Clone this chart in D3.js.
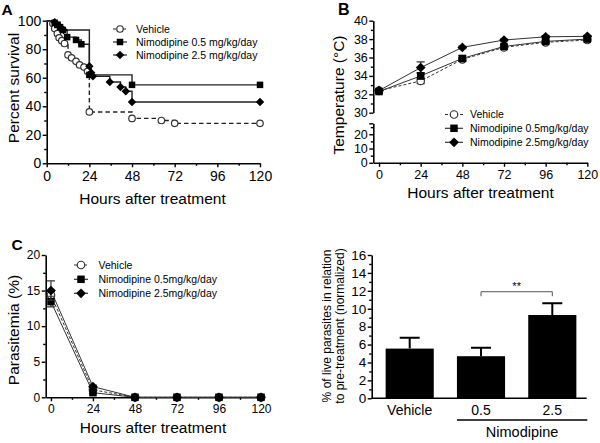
<!DOCTYPE html>
<html><head><meta charset="utf-8">
<script src="https://cdn.jsdelivr.net/npm/d3@7"></script>
<style>
body{margin:0;background:#fff;}
svg{display:block;}
</style></head><body>
<svg id="chart" width="600" height="443"></svg>
<script>
// ---------- DATA ----------
const hourTicks = [0, 24, 48, 72, 96, 120];
const hourMinorTicks = [12, 36, 60, 84, 108];
const seriesNames = ["Vehicle", "Nimodipine 0.5mg/kg/day", "Nimodipine 2.5mg/kg/day"];
const survivalLegend = ["Vehicle", "Nimodipine 0.5 mg/kg/day", "Nimodipine 2.5 mg/kg/day"];

// Panel A: Kaplan-Meier survival [hour, percent]
const survivalTicks = [0, 20, 40, 60, 80, 100];
const survivalMinorTicks = [10, 30, 50, 70, 90];
const survivalVehicle = [[0,100],[3.5,98],[4.5,94.5],[6,91],[7,88],[8.5,86],[10,84],[12,76],[14,74],[16.5,71.5],[18.5,69],[21,67.5],[23,64.5],[24,36],[48,31.5],[64.5,30],[72,28],[120,28]];
const survivalNim05 = [[0,100],[4.5,98.5],[6,97],[7.5,95.5],[9,93.5],[11.5,88.5],[16.5,86.5],[19.5,83.5],[24,62],[48,55],[120,55]];
const survivalNim25 = [[0,100],[4.5,99],[7.5,95.5],[9.5,93.5],[24,68],[25,63.5],[26,61],[35.5,57],[41.5,53.5],[44.5,50.5],[48,43],[120,43]];

// Panel B: temperature (°C)
const tempHours = [0, 24, 48, 72, 96, 120];
const tempTopTicks = [30, 32, 34, 36, 38, 40];
const tempTopMinorTicks = [31, 33, 35, 37, 39];
const tempBottomTicks = [0, 10, 20];
const tempBottomMinorTicks = [5, 15, 25];
const tempVehicle = [32.4, 33.45, 35.8, 37.1, 37.65, 37.9];
const tempVehicleErr = [0.2, 0.3, 0.2, 0.15, 0.15, 0.1];
const tempNim05 = [32.3, 34.0, 35.9, 37.2, 37.75, 38.0];
const tempNim05Err = [0.2, 0.35, 0.3, 0.2, 0.15, 0.1];
const tempNim25 = [32.4, 34.9, 37.1, 37.9, 38.25, 38.3];
const tempNim25Err = [0.2, 0.62, 0.15, 0.1, 0.12, 0.1];

// Panel C: parasitemia (%)
const paraTicks = [0, 5, 10, 15, 20];
const paraMinorTicks = [2.5, 7.5, 12.5, 17.5];
const paraVehicle = [14.35, 1.05, 0, 0, 0, 0];
const paraVehicleErr = [0.5, 0.15, 0, 0, 0, 0];
const paraNim05 = [13.45, 0.65, 0, 0, 0, 0];
const paraNim05Err = [0.75, 0.15, 0, 0, 0, 0];
const paraNim25 = [15.0, 1.5, 0, 0, 0, 0];
const paraNim25Err = [1.35, 0.2, 0, 0, 0, 0];

// Panel D: % live parasites
const barCategories = ["Vehicle", "0.5", "2.5"];
const barValues = [5.55, 4.7, 9.3];
const barErrors = [1.2, 0.95, 1.32];
const barTicks = [0, 2, 4, 6, 8, 10, 12, 14, 16];
const barMinorTicks = [1, 3, 5, 7, 9, 11, 13, 15];
const significance = [{ from: "0.5", to: "2.5", level: 11.9, label: "**" }];
const groupLabel = "Nimodipine";
const groupMembers = ["0.5", "2.5"];

// ---------- DRAWING ----------
const FONT = '"Liberation Sans", Arial, Helvetica, sans-serif';
const svg = d3.select("#chart").attr("font-family", FONT);
svg.append("rect").attr("width", 600).attr("height", 443).attr("fill", "#fff");

function styleAxis(g, fs) {
  g.attr("font-family", FONT).attr("font-size", fs);
  g.selectAll("path.domain").attr("stroke", "#000").attr("stroke-width", 1.6);
  g.selectAll(".tick line").attr("stroke", "#000").attr("stroke-width", 1.4);
  g.selectAll(".tick text").attr("fill", "#000");
}
function drawAxis(parent, gen, transform, major, minor, fs, pad, fmt) {
  const g = parent.append("g").attr("transform", transform);
  gen.tickValues(major).tickSizeInner(4).tickSizeOuter(0).tickPadding(pad);
  if (fmt) gen.tickFormat(fmt);
  g.call(gen);
  styleAxis(g, fs);
  if (minor) {
    const gm = parent.append("g").attr("transform", transform);
    gm.call(gen.tickValues(minor).tickSizeInner(2.5).tickFormat(""));
    gm.select("path.domain").remove();
    styleAxis(gm, fs);
  }
  return g;
}
const diamondPath = r => `M0,${-r}L${r},0L0,${r}L${-r},0Z`;
function marker(g, type, x, y, s) {
  if (type === 0) {
    g.append("circle").attr("cx", x).attr("cy", y).attr("r", s * 0.5)
      .attr("fill", "#fff").attr("stroke", "#333").attr("stroke-width", 1.2);
  } else if (type === 1) {
    g.append("rect").attr("x", x - s / 2).attr("y", y - s / 2).attr("width", s).attr("height", s).attr("fill", "#000");
  } else {
    g.append("path").attr("d", diamondPath(s * 0.65)).attr("transform", `translate(${x},${y})`).attr("fill", "#000");
  }
}
function title(text, x, y, fs, rotate, weight) {
  const t = svg.append("text").text(text).attr("font-size", fs).attr("fill", "#000")
    .attr("text-anchor", rotate ? "middle" : "start");
  if (weight) t.attr("font-weight", weight);
  if (rotate) t.attr("transform", `translate(${x},${y}) rotate(-90)`);
  else t.attr("x", x).attr("y", y);
  return t;
}
function legend(items, x0, x1, xt, ys, lineColor, sz) {
  const g = svg.append("g");
  items.forEach((name, i) => {
    const line = g.append("line").attr("x1", x0).attr("x2", x1).attr("y1", ys[i]).attr("y2", ys[i])
      .attr("stroke", lineColor).attr("stroke-width", 1.2);
    if (i === 0) line.attr("stroke-dasharray", "3,2");
    marker(g, i, (x0 + x1) / 2, ys[i], sz);
    g.append("text").attr("x", xt).attr("y", ys[i]).attr("dy", "0.36em").attr("font-size", 10.5)
      .attr("fill", "#000").text(name);
  });
}

// ===== Panel A =====
{
  const x = d3.scaleLinear([0, 120], [46.7, 260]);
  const y = d3.scaleLinear([0, 100], [163.3, 20.7]);
  const g = svg.append("g");
  drawAxis(g, d3.axisBottom(x), "translate(0,163.3)", hourTicks, hourMinorTicks, 14, 3.5);
  drawAxis(g, d3.axisLeft(y), "translate(46.7,0)", survivalTicks, survivalMinorTicks, 14, 1.5);
  const line = d3.line().x(d => x(d[0])).y(d => y(d[1])).curve(d3.curveStepAfter);
  const sets = [survivalVehicle, survivalNim05, survivalNim25];
  sets.forEach((s, i) => {
    const p = g.append("path").attr("d", line(s)).attr("fill", "none")
      .attr("stroke", "#222").attr("stroke-width", 1.4);
    if (i === 0) p.attr("stroke-dasharray", "4.5,3");
  });
  [survivalVehicle, survivalNim25, survivalNim05].forEach(s => {
    const i = sets.indexOf(s);
    s.slice(1).forEach(d => marker(g, i, x(d[0]), y(d[1]), i === 0 ? 6.5 : 6.5));
  });
  legend(survivalLegend, 113, 127, 136, [29, 42, 55], "#222", 6.5);
  title("A", 1.5, 15, 15.5, false, "bold");
  title("Hours after treatment", 152.5, 203.5, 15.5).attr("text-anchor", "middle");
  title("Percent survival", 18.5, 88, 15.5, true);
}

// ===== Panel B =====
{
  const x = d3.scaleLinear([-3.3, 120], [373.3, 587.3]);
  const yTop = d3.scaleLinear([30, 40], [112.7, 20.7]);
  const yBot = d3.scaleLinear([0, 27.7], [162.8, 123.3]);
  const g = svg.append("g");
  drawAxis(g, d3.axisBottom(x), "translate(0,162.8)", hourTicks, hourMinorTicks, 12.5, 3.5);
  drawAxis(g, d3.axisLeft(yTop), "translate(373.3,0)", tempTopTicks, tempTopMinorTicks, 12.5, 1.5);
  drawAxis(g, d3.axisLeft(yBot), "translate(373.3,0)", tempBottomTicks.concat([27.7]), tempBottomMinorTicks, 12.5, 1.5,
    d => tempBottomTicks.includes(d) ? d : "");
  const vals = [tempVehicle, tempNim05, tempNim25];
  const errs = [tempVehicleErr, tempNim05Err, tempNim25Err];
  const line = d3.line().x((d, i) => x(tempHours[i])).y(d => yTop(d));
  vals.forEach((v, i) => {
    const p = g.append("path").attr("d", line(v)).attr("fill", "none").attr("stroke", "#333").attr("stroke-width", 1);
    if (i === 0) p.attr("stroke-dasharray", "3,2");
  });
  [0, 2, 1].forEach(i => {
    vals[i].forEach((v, j) => {
      const cx = x(tempHours[j]);
      const e = errs[i][j];
      g.append("path").attr("d", `M${cx},${yTop(v - e)}V${yTop(v + e)}M${cx - 4},${yTop(v + e)}h8M${cx - 4},${yTop(v - e)}h8`)
        .attr("stroke", "#333").attr("stroke-width", 1.2).attr("fill", "none");
      marker(g, i, cx, yTop(v), 7.5);
    });
  });
  legend(seriesNames, 445, 463, 470, [114.5, 128.3, 142.3], "#333", 7.5);
  title("B", 338, 15, 16, false, "bold");
  title("Hours after treatment", 480.5, 197.5, 15.5).attr("text-anchor", "middle");
  title("Temperature (\u00B0C)", 344, 95, 15.5, true);
}

// ===== Panel C =====
{
  const x = d3.scaleLinear([-3, 120], [45.7, 261]);
  const y = d3.scaleLinear([0, 20], [397.3, 255]);
  const g = svg.append("g");
  drawAxis(g, d3.axisBottom(x), "translate(0,397.3)", hourTicks, hourMinorTicks, 12, 3);
  drawAxis(g, d3.axisLeft(y), "translate(45.7,0)", paraTicks, paraMinorTicks, 12, 1.5);
  const vals = [paraVehicle, paraNim05, paraNim25];
  const errs = [paraVehicleErr, paraNim05Err, paraNim25Err];
  const line = d3.line().x((d, i) => x(hourTicks[i])).y(d => y(d));
  vals.forEach((v, i) => {
    const p = g.append("path").attr("d", line(v)).attr("fill", "none").attr("stroke", "#333").attr("stroke-width", 1);
    if (i === 0) p.attr("stroke-dasharray", "3,2");
  });
  [0, 1, 2].forEach(i => {
    vals[i].forEach((v, j) => {
      const cx = x(hourTicks[j]);
      const e = errs[i][j];
      if (e > 0) g.append("path").attr("d", `M${cx},${y(v - e)}V${y(v + e)}M${cx - 4},${y(v + e)}h8M${cx - 4},${y(v - e)}h8`)
        .attr("stroke", "#333").attr("stroke-width", 1.2).attr("fill", "none");
      marker(g, i, cx, y(v), 7.5);
    });
  });
  legend(seriesNames, 74, 88, 98.5, [265, 279.3, 293.3], "#333", 7.5);
  title("C", 11.5, 250, 15.5, false, "bold");
  title("Hours after treatment", 153, 433, 15.5).attr("text-anchor", "middle");
  title("Parasitemia (%)", 19, 330, 15.5, true);
}

// ===== Panel D =====
{
  const y = d3.scaleLinear([0, 16], [398.3, 255]);
  const x = d3.scalePoint(barCategories, [409.7, 552.3]);
  const bw = x.step() * 0.675;
  const g = svg.append("g");
  g.selectAll("rect.bar").data(barCategories).join("rect")
    .attr("x", d => x(d) - bw / 2).attr("width", bw)
    .attr("y", (d, i) => y(barValues[i])).attr("height", (d, i) => y(0) - y(barValues[i]))
    .attr("fill", "#000");
  barCategories.forEach((c, i) => {
    const cx = x(c), top = y(barValues[i] + barErrors[i]);
    g.append("path").attr("d", `M${cx},${y(barValues[i])}V${top}M${cx - 10},${top}h20`)
      .attr("stroke", "#000").attr("stroke-width", 2).attr("fill", "none");
  });
  const ax = g.append("g").attr("transform", "translate(0,398.3)");
  ax.append("line").attr("x1", 371.7).attr("x2", 586.7).attr("stroke", "#000").attr("stroke-width", 1.6);
  drawAxis(g, d3.axisLeft(y), "translate(371.7,0)", barTicks, barMinorTicks, 13.5, 1.5);
  barCategories.forEach(c => {
    g.append("text").attr("x", x(c)).attr("y", 414.5).attr("text-anchor", "middle")
      .attr("font-size", 14).attr("fill", "#000").text(c);
  });
  // group underline
  const gx0 = x(groupMembers[0]) - bw / 2, gx1 = 587.3;
  g.append("line").attr("x1", gx0).attr("x2", gx1).attr("y1", 420).attr("y2", 420)
    .attr("stroke", "#000").attr("stroke-width", 1.5);
  g.append("text").attr("x", (gx0 + gx1) / 2).attr("y", 436.5).attr("text-anchor", "middle")
    .attr("font-size", 14.5).attr("fill", "#000").text(groupLabel);
  significance.forEach(s => {
    const x0 = x(s.from), x1 = x(s.to), yy = y(s.level);
    g.append("path").attr("d", `M${x0},${yy + 4.5}V${yy}H${x1}V${yy + 4.5}`)
      .attr("stroke", "#555").attr("stroke-width", 1).attr("fill", "none");
    g.append("text").attr("x", (x0 + x1) / 2).attr("y", yy - 2).attr("text-anchor", "middle")
      .attr("font-size", 11).attr("fill", "#000").text(s.label);
  });
  title("% of live parasites in relation", 331, 326, 12, true);
  title("to pre-treatment (normalized)", 344, 326, 12, true);
}
</script>
</body></html>
